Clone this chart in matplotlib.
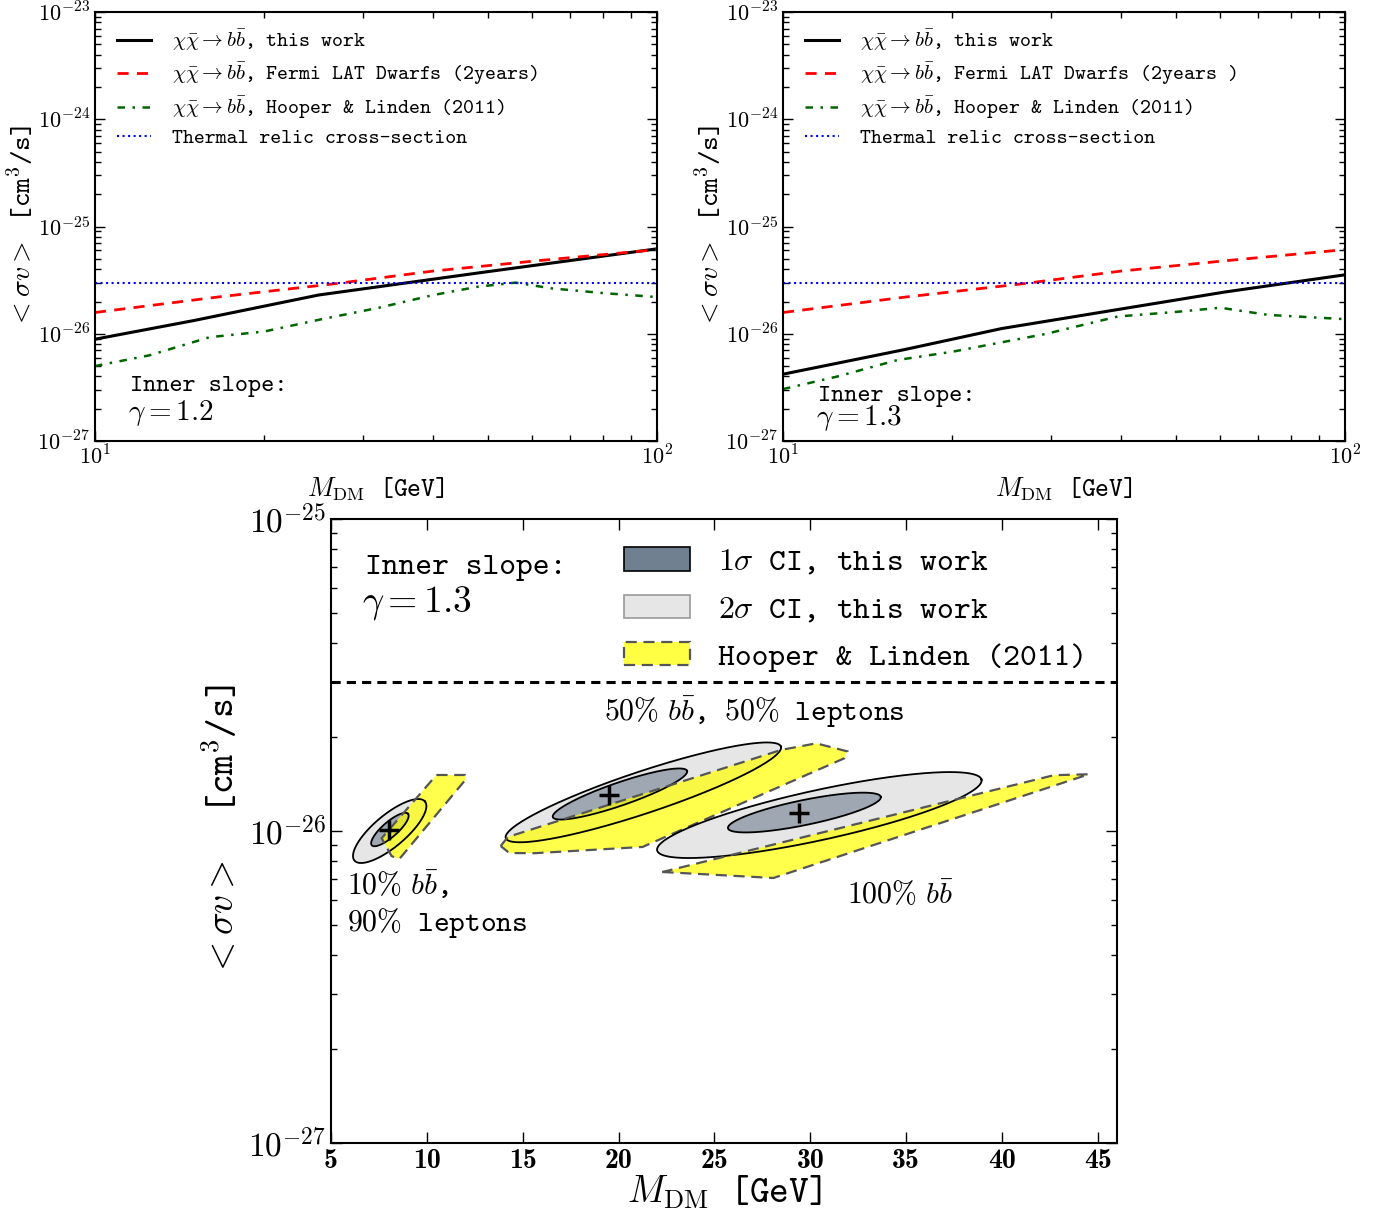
import numpy as np
import matplotlib.pyplot as plt
from matplotlib.patches import Patch
from matplotlib.ticker import FuncFormatter, NullFormatter

plt.rcParams['mathtext.fontset'] = 'cm'
plt.rcParams['font.family'] = 'cmtt10'
plt.rcParams['axes.unicode_minus'] = False
plt.rcParams['axes.linewidth'] = 1.5
plt.rcParams['xtick.direction'] = 'in'
plt.rcParams['ytick.direction'] = 'in'
plt.rcParams['xtick.top'] = True
plt.rcParams['ytick.right'] = True

# ---- top panels: upper limits vs mass ----
thermal = 3e-26

# gamma = 1.2
tl_mass_black = [10, 15, 25, 50, 100]
tl_sv_black = [8.9e-27, 1.33e-26, 2.3e-26, 3.8e-26, 6.2e-26]
fermi_mass = [10, 16.5, 27, 40, 62.5, 100]
fermi_sv = [1.58e-26, 2.2e-26, 2.95e-26, 3.85e-26, 4.85e-26, 6.1e-26]
tl_mass_hl = [10, 12.5, 16, 20, 25, 32, 40, 48, 56, 65, 80, 100]
tl_sv_hl = [5.0e-27, 6.3e-27, 9.3e-27, 1.05e-26, 1.35e-26, 1.75e-26, 2.3e-26,
            2.75e-26, 3.0e-26, 2.65e-26, 2.4e-26, 2.2e-26]

# gamma = 1.3
tr_mass_black = [10, 16.4, 24.5, 61, 100]
tr_sv_black = [4.2e-27, 7.1e-27, 1.12e-26, 2.45e-26, 3.55e-26]
tr_mass_hl = [10, 12.5, 16, 20, 29.4, 39.4, 50, 60, 73, 100]
tr_sv_hl = [3.05e-27, 4.0e-27, 5.7e-27, 6.8e-27, 1.0e-26, 1.45e-26, 1.6e-26,
            1.75e-26, 1.5e-26, 1.37e-26]

# ---- bottom panel: confidence regions ----
best_mass = [8.0, 19.5, 29.4]
best_sv = [1.01e-26, 1.30e-26, 1.14e-26]
# ellipse params: centre mass, centre sv, semi-major / semi-minor (px), tilt (deg)
sig1_mass = [8.07, 20.07, 29.69]
sig1_sv = [1.011e-26, 1.314e-26, 1.146e-26]
sig1_a = [24, 71, 78]
sig1_b = [7.5, 11.5, 12.5]
sig1_ang = [41, 19, 11.6]
sig2_mass = [8.06, 21.29, 30.47]
sig2_sv = [1.0e-26, 1.33e-26, 1.125e-26]
sig2_a = [46, 145, 166]
sig2_b = [16, 21, 25]
sig2_ang = [40, 18.4, 12.3]
# Hooper & Linden regions
hl_mass = [
    [10.50, 11.98, 12.03, 8.56, 8.16, 7.64],
    [13.85, 14.22, 28.49, 30.31, 31.93, 31.77, 21.25, 15.63, 14.3],
    [22.29, 28.07, 44.53, 42.71],
]
hl_sv = [
    [1.512e-26, 1.512e-26, 1.464e-26, 8.13e-27, 8.31e-27, 9.48e-27],
    [8.95e-27, 9.57e-27, 1.82e-26, 1.91e-26, 1.80e-26, 1.71e-26, 8.89e-27, 8.49e-27, 8.5e-27],
    [7.39e-27, 7.07e-27, 1.52e-26, 1.51e-26],
]

pow10 = FuncFormatter(lambda v, p: r'$10^{%d}$' % int(round(np.log10(v))))

fig = plt.figure(figsize=(13.88, 12.09), dpi=100)
ax_tl = fig.add_axes([0.0684, 0.6352, 0.405, 0.3548])
ax_tr = fig.add_axes([0.5641, 0.6352, 0.405, 0.3548])
ax_b = fig.add_axes([0.2385, 0.0546, 0.5663, 0.5161])

leg_labels = [r'$\chi\bar{\chi}\rightarrow b\bar{b}$, this work',
              r'$\chi\bar{\chi}\rightarrow b\bar{b}$, Fermi LAT Dwarfs (2years)',
              r'$\chi\bar{\chi}\rightarrow b\bar{b}$, Hooper & Linden (2011)',
              'Thermal relic cross-section']


def top_panel(ax, mb, sb, mh, sh, labels, gamma, txy, gxy):
    ax.plot(mb, sb, color='black', lw=2.2, label=labels[0])
    ax.plot(fermi_mass, fermi_sv, color='red', lw=2, ls=(0, (4, 3)), label=labels[1])
    ax.plot(mh, sh, color='darkgreen', lw=1.8, ls=(0, (3, 3, 1, 3)), label=labels[2])
    ax.axhline(thermal, color='blue', lw=1.5, ls=':', label=labels[3])
    ax.set_xscale('log')
    ax.set_yscale('log')
    ax.set_xlim(10, 100)
    ax.set_ylim(1e-27, 1e-23)
    for axis in (ax.xaxis, ax.yaxis):
        axis.set_major_formatter(pow10)
        axis.set_minor_formatter(NullFormatter())
    ax.tick_params(which='major', length=7, width=1, labelsize=16)
    ax.tick_params(which='minor', length=4, width=1)
    ax.set_xlabel(r'$M_{\rm DM}$ [GeV]', fontsize=19, labelpad=4)
    ax.set_ylabel(r'$<\sigma v>$ [cm$^3$/s]', fontsize=20, labelpad=0)
    ax.legend(loc='upper left', bbox_to_anchor=(0.04, 0.963), frameon=False, fontsize=15,
              handlelength=1.6, handletextpad=1.0, labelspacing=0.36,
              borderpad=0, borderaxespad=0)
    ax.text(txy[0], txy[1], 'Inner slope:', transform=ax.transAxes, fontsize=18,
            va='center', ha='left')
    ax.text(gxy[0], gxy[1], r'$\gamma = \mathbf{%s}$' % gamma, transform=ax.transAxes,
            fontsize=21, va='center', ha='left')


top_panel(ax_tl, tl_mass_black, tl_sv_black, tl_mass_hl, tl_sv_hl, leg_labels, '1.2',
          (0.062, 0.128), (0.059, 0.065))
leg_labels_r = list(leg_labels)
leg_labels_r[1] = r'$\chi\bar{\chi}\rightarrow b\bar{b}$, Fermi LAT Dwarfs (2years )'
top_panel(ax_tr, tr_mass_black, tr_sv_black, tr_mass_hl, tr_sv_hl, leg_labels_r, '1.3',
          (0.062, 0.105), (0.059, 0.054))

# ---- bottom panel ----
ax = ax_b
ax.set_yscale('log')
ax.set_xlim(5, 46)
ax.set_ylim(1e-27, 1e-25)
ax.yaxis.set_major_formatter(pow10)
ax.yaxis.set_minor_formatter(NullFormatter())

pos = ax.get_position()
px_x = pos.width * fig.get_figwidth() * fig.dpi / (46 - 5)
px_dec = pos.height * fig.get_figheight() * fig.dpi / 2.0


def ellipse(cx, cy, a, b, ang, n=300):
    t = np.linspace(0, 2 * np.pi, n)
    th = np.radians(ang)
    dx = a * np.cos(t) * np.cos(th) - b * np.sin(t) * np.sin(th)
    dy = a * np.cos(t) * np.sin(th) + b * np.sin(t) * np.cos(th)
    return cx + dx / px_x, cy * 10 ** (dy / px_dec)


for i in range(3):
    z = 2 + 6 * i
    x2, y2 = ellipse(sig2_mass[i], sig2_sv[i], sig2_a[i], sig2_b[i], sig2_ang[i])
    x1, y1 = ellipse(sig1_mass[i], sig1_sv[i], sig1_a[i], sig1_b[i], sig1_ang[i])
    ax.fill(x2, y2, color='#e6e6e6', lw=0, zorder=z)
    ax.fill(x1, y1, color='slategray', alpha=0.6, lw=0, zorder=z + 1)
    ax.fill(hl_mass[i], hl_sv[i], color='yellow', alpha=0.7, lw=0, zorder=z + 2)
    ax.plot(x2, y2, color='black', lw=1.3, zorder=z + 3)
    ax.plot(x1, y1, color='black', lw=1.3, zorder=z + 3)
    ax.fill(hl_mass[i], hl_sv[i], facecolor='none', edgecolor='#555555', lw=1.6,
            ls=(0, (5, 3)), zorder=z + 4)
    ax.plot(best_mass[i], best_sv[i], marker='+', color='black', ms=15, mew=2.5,
            zorder=z + 5)

ax.axhline(thermal, color='black', lw=2.2, ls=(0, (3, 2)), zorder=30)

xt = [5, 10, 15, 20, 25, 30, 35, 40, 45]
ax.set_xticks(xt)
ax.set_xticklabels([str(v) for v in xt], fontfamily='cmb10', fontsize=20)
ax.tick_params(which='major', length=8, width=1)
ax.tick_params(axis='y', which='major', labelsize=24)
ax.tick_params(which='minor', length=4, width=1)
ax.set_xlabel(r'$M_{\rm DM}$ [GeV]', fontsize=27, labelpad=0)
ax.set_ylabel(r'$<\sigma v>$  [cm$^3$/s]', fontsize=27, labelpad=4)

handles = [Patch(facecolor='slategray', edgecolor='black', lw=1.2),
           Patch(facecolor='#e6e6e6', edgecolor='#999999', lw=1.2),
           Patch(facecolor='#ffff44', edgecolor='#555555', lw=1.6, ls=(0, (5, 3)))]
labels = [r'$1\sigma$ CI, this work', r'$2\sigma$ CI, this work', 'Hooper & Linden (2011)']
ax.legend(handles, labels, loc='upper left', bbox_to_anchor=(0.373, 0.955), frameon=False,
          fontsize=23, handlelength=2.05, handleheight=0.75, handletextpad=0.9,
          labelspacing=0.55, borderpad=0, borderaxespad=0)

ax.text(0.043, 0.921, 'Inner slope:', transform=ax.transAxes, fontsize=23, va='center')
ax.text(0.039, 0.865, r'$\gamma = \mathbf{1.3}$', transform=ax.transAxes, fontsize=27,
        va='center')
ax.text(0.539, 0.691, r'$50\%\ b\bar{b}$, $50\%$ leptons', transform=ax.transAxes,
        fontsize=21.5, ha='center', va='center')
ax.text(0.020, 0.412, r'$10\%\ b\bar{b}$,', transform=ax.transAxes, fontsize=21.5,
        va='center')
ax.text(0.020, 0.353, r'$90\%$ leptons', transform=ax.transAxes, fontsize=21.5, va='center')
ax.text(0.656, 0.397, r'$100\%\ b\bar{b}$', transform=ax.transAxes, fontsize=21.5,
        va='center')

fig.savefig('out.png', dpi=100)
